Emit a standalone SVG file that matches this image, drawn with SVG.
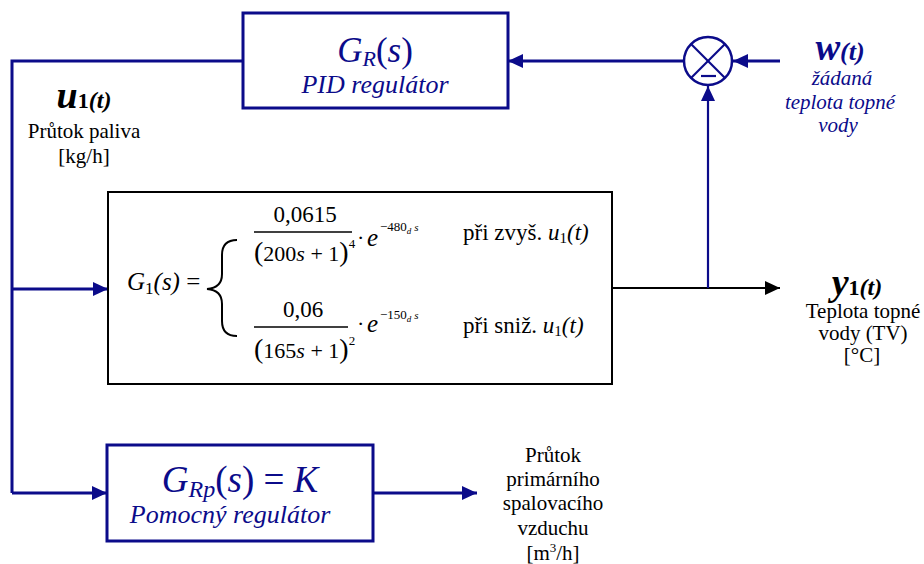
<svg xmlns="http://www.w3.org/2000/svg" width="924" height="564" viewBox="0 0 924 564" font-family="'Liberation Serif', 'Times New Roman', serif">
<style>
  text { font-family: 'Liberation Serif', 'Times New Roman', serif; }
  .blk { fill: #000; }
  .nv { fill: #0b0b8a; }
  .it { font-style: italic; }
  .bl { stroke: #0b0b8a; stroke-width: 3; fill: none; }
  .bl2 { stroke: #0b0b8a; stroke-width: 2.2; fill: none; }
  .k { stroke: #000; stroke-width: 2; fill: none; }
  .box { fill: #fff; stroke: #0b0b8a; stroke-width: 3; }
  .lbl { font-size: 21px; text-anchor: middle; }
</style>
<defs>
  <marker id="ab" markerWidth="16" markerHeight="14" refX="15" refY="7" orient="auto" markerUnits="userSpaceOnUse">
    <path d="M0,0 L15,7 L0,14 z" fill="#0b0b8a"/>
  </marker>
  <marker id="ak" markerWidth="16" markerHeight="14" refX="15" refY="7" orient="auto" markerUnits="userSpaceOnUse">
    <path d="M0,0 L15,7 L0,14 z" fill="#000"/>
  </marker>
</defs>
<rect width="924" height="564" fill="#fff"/>

<g id="connectors">
  <polyline class="bl" points="243,61 12,61 12,493"/>
  <line class="bl" x1="12" y1="289" x2="108" y2="289" marker-end="url(#ab)"/>
  <line class="bl" x1="12" y1="493" x2="107" y2="493" marker-end="url(#ab)"/>
  <line class="bl" x1="373" y1="493" x2="477" y2="493" marker-end="url(#ab)"/>
  <line class="k" x1="612" y1="288" x2="780" y2="288" marker-end="url(#ak)"/>
  <line class="bl2" x1="708" y1="288" x2="708" y2="86" marker-end="url(#ab)"/>
  <line class="bl" x1="780" y1="61" x2="733" y2="61" marker-end="url(#ab)"/>
  <line class="bl" x1="684" y1="61" x2="508" y2="61" marker-end="url(#ab)"/>
</g>

<g id="GR">
  <rect class="box" x="243" y="13" width="265" height="95"/>
  <text class="nv" x="375" y="62" font-size="35" text-anchor="middle"><tspan class="it">G</tspan><tspan class="it" font-size="22" dy="4">R</tspan><tspan dy="-4">(</tspan><tspan class="it">s</tspan>)</text>
  <text class="nv it" x="375" y="93" font-size="26" text-anchor="middle">PID regulátor</text>
</g>

<g id="sum">
  <circle cx="708" cy="61" r="24" fill="#fff" stroke="#0b0b8a" stroke-width="2.5"/>
  <line class="bl2" x1="691" y1="44" x2="725" y2="78"/>
  <line class="bl2" x1="725" y1="44" x2="691" y2="78"/>
  <line class="bl2" x1="701" y1="76" x2="716" y2="76"/>
</g>

<g id="w-label">
  <text class="nv" x="840" y="60" text-anchor="middle" font-weight="bold" font-style="italic"><tspan font-size="37">w</tspan><tspan font-size="26">(t)</tspan></text>
  <text class="nv it lbl" x="842" y="85">žádaná</text>
  <text class="nv it lbl" x="840" y="109">teplota topné</text>
  <text class="nv it lbl" x="838" y="132">vody</text>
</g>

<g id="u-label">
  <text class="blk" x="84" y="108" text-anchor="middle" font-weight="bold" font-style="italic"><tspan font-size="38">u</tspan><tspan font-size="22" font-style="normal">1</tspan><tspan font-size="24">(t)</tspan></text>
  <text class="blk lbl" x="84" y="138">Průtok paliva</text>
  <text class="blk lbl" x="84" y="163">[kg/h]</text>
</g>

<g id="G1">
  <rect x="108" y="192" width="504" height="192" fill="#fff" stroke="#000" stroke-width="2"/>
  <text class="blk" x="127" y="290" font-size="25"><tspan class="it">G</tspan><tspan font-size="17" dy="4">1</tspan><tspan class="it" dy="-4">(s)</tspan> =</text>
  <path class="k" d="M237,240 Q222,240 222,255 L222,274 Q222,288 207,289 Q222,290 222,304 L222,321 Q222,336 237,336"/>
  <text class="blk" x="305" y="222" font-size="23" text-anchor="middle">0,0615</text>
  <line x1="254" y1="232" x2="352" y2="232" stroke="#000" stroke-width="1.3"/>
  <text class="blk" x="254" y="261" font-size="22"><tspan font-size="28">(</tspan>200<tspan class="it">s</tspan> + 1<tspan font-size="28">)</tspan><tspan font-size="13" dy="-13">4</tspan></text>
  <text class="blk" x="357" y="245" font-size="22">·</text>
  <text class="blk it" x="367" y="246" font-size="25">e</text>
  <text class="blk" x="380" y="231" font-size="13">−480<tspan class="it" font-size="9" dy="3">d</tspan><tspan class="it" font-size="11" dx="3" dy="-3">s</tspan></text>
  <text class="blk" x="463" y="240" font-size="23">při zvyš. <tspan class="it">u</tspan><tspan font-size="15" dy="3">1</tspan><tspan class="it" dy="-3">(t)</tspan></text>

  <text class="blk" x="303" y="317" font-size="23" text-anchor="middle">0,06</text>
  <line x1="254" y1="327" x2="348" y2="327" stroke="#000" stroke-width="1.3"/>
  <text class="blk" x="254" y="358" font-size="22"><tspan font-size="28">(</tspan>165<tspan class="it">s</tspan> + 1<tspan font-size="28">)</tspan><tspan font-size="13" dy="-13">2</tspan></text>
  <text class="blk" x="357" y="331" font-size="22">·</text>
  <text class="blk it" x="367" y="332" font-size="25">e</text>
  <text class="blk" x="380" y="319" font-size="13">−150<tspan class="it" font-size="9" dy="3">d</tspan><tspan class="it" font-size="11" dx="3" dy="-3">s</tspan></text>
  <text class="blk" x="463" y="333" font-size="23">při sniž. <tspan class="it">u</tspan><tspan font-size="15" dy="3">1</tspan><tspan class="it" dy="-3">(t)</tspan></text>
</g>

<g id="y-label">
  <text class="blk" x="857" y="295" text-anchor="middle" font-weight="bold" font-style="italic"><tspan font-size="38">y</tspan><tspan font-size="22" font-style="normal">1</tspan><tspan font-size="24">(t)</tspan></text>
  <text class="blk lbl" x="863" y="318">Teplota topné</text>
  <text class="blk lbl" x="863" y="340">vody (TV)</text>
  <text class="blk lbl" x="862" y="362">[°C]</text>
</g>

<g id="GRp">
  <rect class="box" x="107" y="445" width="266" height="96"/>
  <text class="nv" x="240" y="492" font-size="37" text-anchor="middle"><tspan class="it">G</tspan><tspan class="it" font-size="24" dy="5">Rp</tspan><tspan dy="-5">(</tspan><tspan class="it">s</tspan>) = <tspan class="it">K</tspan></text>
  <text class="nv it" x="230" y="523" font-size="26" text-anchor="middle">Pomocný regulátor</text>
</g>

<g id="air-label">
  <text class="blk lbl" x="553" y="462">Průtok</text>
  <text class="blk lbl" x="553" y="486">primárního</text>
  <text class="blk lbl" x="553" y="510">spalovacího</text>
  <text class="blk lbl" x="553" y="535">vzduchu</text>
  <text class="blk lbl" x="553" y="560">[m<tspan font-size="13" dy="-8">3</tspan><tspan dy="8">/h]</tspan></text>
</g>
</svg>
